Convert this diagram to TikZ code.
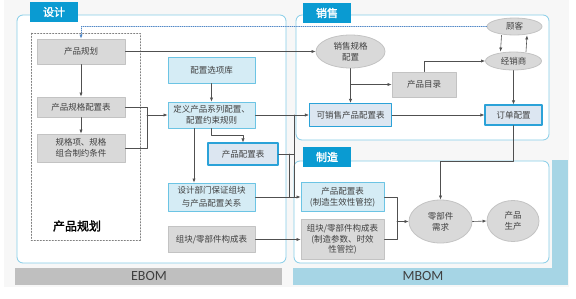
\documentclass[tikz,border=0pt]{standalone}
\usepackage{fontspec}
\setmainfont{Noto Sans CJK SC}
\newfontfamily\boldcjk[FakeBold=2]{Noto Sans CJK SC}
\newfontfamily\barfont{Carlito}
\usepackage{tikz}
\usetikzlibrary{arrows.meta, shapes.geometric}
\definecolor{my_text}{HTML}{404040}
\definecolor{my_line}{HTML}{505050}
\definecolor{my_bg}{HTML}{F7F7F7}
\definecolor{my_tabblue}{HTML}{0A9BD2}
\definecolor{my_panel}{HTML}{86CDE8}
\definecolor{my_grayfill}{HTML}{D9D9D9}
\definecolor{my_grayline}{HTML}{C3C3C3}
\definecolor{my_lightblue}{HTML}{D5ECF5}
\definecolor{my_lightline}{HTML}{6CC4E4}
\definecolor{my_cfgfill}{HTML}{DCE6F1}
\definecolor{my_cfgline}{HTML}{2BA2D8}
\definecolor{my_ebom}{HTML}{BFBFBF}
\definecolor{my_mbom}{HTML}{A6D5E5}
\definecolor{my_dotblue}{HTML}{4F86C6}

\begin{document}
\begin{tikzpicture}[
    x=1pt, y=-1pt,
    line cap=round,
    line join=round,
    every node/.style={font=\fontsize{8.5}{11}\selectfont, text=my_text},
    graybox/.style={draw=my_grayline, fill=my_grayfill, line width=0.8pt, align=center, inner sep=1pt},
    lightbox/.style={draw=my_lightline, fill=my_lightblue, line width=0.8pt, align=center, inner sep=1pt},
    cfgbox/.style={draw=my_cfgline, fill=my_cfgfill, line width=1.1pt, align=center, inner sep=1pt},
    oval/.style={ellipse, draw=my_grayline, fill=my_grayfill, line width=0.8pt, align=center, inner sep=0pt},
    panel/.style={draw=my_panel, fill=white, line width=0.8pt, rounded corners=6pt},
    tab/.style={fill=my_tabblue, text=white, font=\boldcjk\fontsize{11}{13}\selectfont,
        minimum width=48, minimum height=20, inner sep=0pt},
    link/.style={draw=my_line, line width=0.6pt},
    arr/.style={link, -{Latex[length=4pt,width=3.2pt]}},
    dotarr/.style={draw=my_dotblue, line width=0.6pt, dash pattern=on 1pt off 1.2pt,
        -{Latex[length=4pt,width=3.2pt]}}
]

% Frame of the picture
\useasboundingbox (0,0) rectangle (576,298);
\fill[my_bg] (4,0) rectangle (569,287);

% EBOM and MBOM bars
\fill[my_ebom] (15,268) rectangle (282,285);
\node[font=\barfont\fontsize{14}{16}\selectfont] (ebom) at (149,276.5) {EBOM};
\fill[my_mbom] (293,268) rectangle (568,285);
\fill[my_mbom] (552,160) rectangle (568,285);
\node[font=\barfont\fontsize{14}{16}\selectfont] (mbom) at (423,276.5) {MBOM};

% Panels
\draw[panel] (17,15) rectangle (286,263);
\draw[panel] (296,15) rectangle (549,140);
\draw[panel] (294,161) rectangle (549,263);

% Panel tabs
\node[tab] (tab-design) at (54,12) {设计};
\node[tab] (tab-sales) at (327,13) {销售};
\node[tab] (tab-make) at (327,157) {制造};

% Product planning group
\draw[draw=gray, line width=0.5pt, dash pattern=on 1.5pt off 1.5pt]
    (31,33) rectangle (140,240);
\node[font=\boldcjk\fontsize{12}{14}\selectfont, text=black] (group-label) at (77,226) {产品规划};

% Design nodes
\node[graybox, minimum width=88, minimum height=25] (plan) at (81,51.5) {产品规划};
\node[graybox, minimum width=88, minimum height=20] (specsheet) at (81,107) {产品规格配置表};
\node[graybox, minimum width=88, minimum height=28] (constraint) at (81,148) {规格项、规格\\组合制约条件};
\node[lightbox, minimum width=87, minimum height=26] (optlib) at (211.5,70) {配置选项库};
\node[lightbox, minimum width=87, minimum height=26] (define) at (211.5,115) {定义产品系列配置、\\配置约束规则};
\node[cfgbox, minimum width=70, minimum height=22] (cfgtable) at (243,154) {产品配置表};
\node[lightbox, minimum width=87, minimum height=28, font=\fontsize{8.5}{13}\selectfont]
    (guarantee) at (211.5,197) {设计部门保证组块\\与产品配置关系};
\node[graybox, minimum width=87, minimum height=26] (partlist) at (211.5,239.5) {组块/零部件构成表};

% Sales nodes
\node[oval, minimum width=69, minimum height=33] (salespec) at (350.5,51.5) {销售规格\\配置};
\node[graybox, minimum width=64, minimum height=25] (catalog) at (424,84.5) {产品目录};
\node[cfgbox, minimum width=82, minimum height=23] (saleable) at (350.5,115) {可销售产品配置表};
\node[oval, minimum width=55, minimum height=17] (customer) at (514.5,26.5) {顾客};
\node[oval, minimum width=56, minimum height=18] (dealer) at (513.5,61) {经销商};
\node[cfgbox, minimum width=57, minimum height=20] (order) at (513.5,115) {订单配置};

% Manufacturing nodes
\node[lightbox, minimum width=83, minimum height=29] (mfgcfg) at (342.5,197) {产品配置表\\(制造生效性管控)};
\node[graybox, minimum width=83, minimum height=40, font=\fontsize{8.5}{10.5}\selectfont]
    (mfgpart) at (342.5,239.5) {组块/零部件构成表\\(制造参数、时效\\性管控)};
\node[oval, minimum width=63, minimum height=43] (demand) at (440.5,221.5) {零部件\\需求};
\node[oval, minimum width=52, minimum height=41] (produce) at (513,221) {产品\\生产};

% Connectors inside design
\draw[arr] (plan) -- (specsheet);
\draw[arr] (specsheet) -- (constraint);
\coordinate (join-spec) at (147,115);
\draw[link] (specsheet.east) -| (join-spec);
\draw[link] (constraint.east) -| (join-spec);
\draw[arr] (join-spec) -- (define.west);
\draw[arr] (optlib) -- (define);
\draw[arr] (define.south) -- ++(0,7) -| (cfgtable.north);
\draw[arr] ([xshift=-17.5pt]define.south) -- ([xshift=-17.5pt]guarantee.north);

% Connectors from design to sales and manufacturing
\draw[arr] (plan.east) -- (salespec.west);
\draw[arr] (define.east) -- (saleable.west);
\coordinate (branch-top) at (294,115);
\coordinate (branch-low) at (294,197);
\draw[link] (branch-top) -- (branch-low);
\coordinate (join-cfg) at (289,197);
\draw[link] (cfgtable.east) -- (cfgtable.east -| branch-top);
\draw[link] (cfgtable.east -| join-cfg) -- (join-cfg);
\draw[arr] (guarantee.east) -- (mfgcfg.west);
\draw[arr] (partlist.east) -- (mfgpart.west);

% Connectors inside sales
\draw[arr] (salespec.south) -- (saleable.north);
\draw[arr] (salespec.south |- catalog.west) -- (catalog.west);
\draw[arr] (catalog.north) |- (dealer.west);
\draw[arr] ([xshift=-13pt]customer.south) -- ([xshift=-13pt]dealer.north);
\draw[arr] ([xshift=12.5pt]dealer.north) -- ([xshift=12.5pt]customer.south);
\draw[arr] (dealer.south) -- (order.north);
\draw[arr] (saleable.east) -- (order.west);

% Customer feedback to product planning
\draw[dotarr] (customer.west) -| (plan.north);

% Connectors inside manufacturing
\draw[arr] (order.south) -- ++(0,36) -| (demand.north);
\coordinate (join-mfg) at (397,221.5);
\draw[link] (mfgcfg.east) -| (join-mfg);
\draw[link] (mfgpart.east) -| (join-mfg);
\draw[arr] (join-mfg) -- (demand.west);
\draw[arr] (demand.east) -- (produce.west);

\end{tikzpicture}
\end{document}
